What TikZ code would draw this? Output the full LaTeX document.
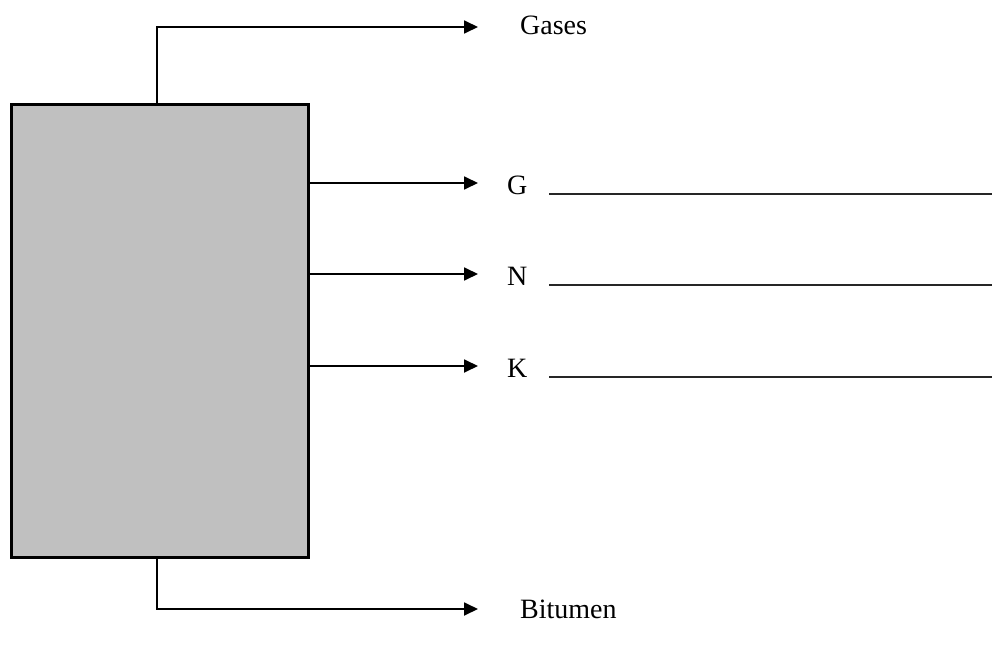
\documentclass[tikz,border=0pt]{standalone}
\usepackage{fontspec}
\setmainfont{Liberation Serif}
\usetikzlibrary{arrows.meta}
\definecolor{boxgray}{HTML}{C0C0C0}
\tikzset{
  conn/.style={line width=1.8pt, -{Triangle[length=14pt,width=13pt]}},
  lbl/.style={anchor=base west, inner sep=0pt, font=\fontsize{28}{32}\selectfont},
  blank/.style={line width=1.6pt, draw=black!85}
}
\begin{document}
\begin{tikzpicture}[x=1pt,y=-1pt]
\useasboundingbox (0,0) rectangle (992,647);
\node[draw, line width=2.8pt, fill=boxgray, minimum width=297pt, minimum height=453pt, inner sep=0pt, anchor=north west] (box) at (10,103) {};
\coordinate (top) at (157,103);
\coordinate (bot) at (157,556);
\coordinate (gs) at (478,27);
\coordinate (bs) at (478,609);
\coordinate (g) at (478,183);
\coordinate (n) at (478,274);
\coordinate (k) at (478,366);
\draw[conn] (top) |- (gs);
\draw[conn] (bot) |- (bs);
\draw[conn] (box.east |- g) -- (g);
\draw[conn] (box.east |- n) -- (n);
\draw[conn] (box.east |- k) -- (k);
\node[lbl] (tg) at (520,35) {Gases};
\node[lbl] (tb) at (520,618) {Bitumen};
\node[lbl] (lg) at (507,194) {G};
\node[lbl] (ln) at (507,285) {N};
\node[lbl] (lk) at (507,377) {K};
\draw[blank] (549,194) -- (992,194);
\draw[blank] (549,285) -- (992,285);
\draw[blank] (549,377) -- (992,377);
\end{tikzpicture}
\end{document}
